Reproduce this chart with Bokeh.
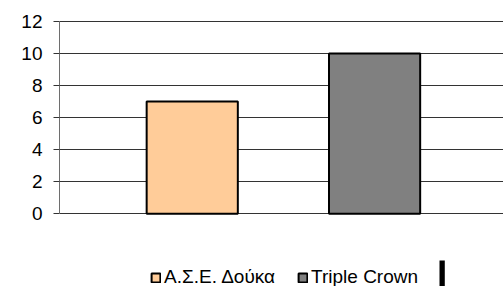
from bokeh.plotting import figure
from bokeh.models import Range1d, FixedTicker, Legend, LegendItem, ColumnDataSource, BoxAnnotation
from bokeh.embed import file_html
from bokeh.resources import INLINE

categories = ["Α.Σ.Ε. Δούκα", "Triple Crown"]
values = [7, 10]
colors = ["#FFCC99", "#808080"]
y_ticks = [0, 2, 4, 6, 8, 10, 12]

p = figure(width=503, height=286, output_backend="svg", toolbar_location=None,
           x_range=Range1d(0.272, 2.707), y_range=Range1d(-4.54, 12.0625),
           min_border_left=59, min_border_right=0, min_border_top=20, min_border_bottom=0)
p.outline_line_color = None
p.background_fill_color = "white"
p.border_fill_color = "white"

items = []
for i, (c, v, col) in enumerate(zip(categories, values, colors)):
    src = ColumnDataSource(dict(x=[i + 1], top=[v]))
    r = p.vbar(x="x", top="top", bottom=0, width=0.5, source=src,
               fill_color=col, line_color="black", line_width=2)
    items.append(LegendItem(label=c, renderers=[r]))

p.xaxis.visible = False
p.xgrid.visible = False
p.yaxis.bounds = (0, 12)
p.yaxis.ticker = FixedTicker(ticks=y_ticks)
p.ygrid.ticker = FixedTicker(ticks=y_ticks)
p.ygrid.grid_line_color = "#333333"
p.ygrid.grid_line_width = 1
p.yaxis.axis_line_color = "#6e6e6e"
p.yaxis.major_tick_line_color = "#333333"
p.yaxis.major_tick_out = 6
p.yaxis.major_tick_in = 0
p.yaxis.minor_tick_line_color = None
p.yaxis.major_label_standoff = 11
p.yaxis.major_label_text_font = "Liberation Sans"
p.yaxis.major_label_text_font_size = "19px"
p.yaxis.major_label_text_color = "black"

legend = Legend(items=items, orientation="horizontal", location=(91, -2),
                glyph_width=11, glyph_height=11, label_standoff=3, spacing=22,
                padding=0, margin=0, border_line_color=None, background_fill_alpha=0,
                label_text_font="Liberation Sans", label_text_font_size="19px",
                label_text_color="black", label_height=14)
p.add_layout(legend, "center")

mark = BoxAnnotation(left=2.356, right=2.385, top=-2.92, bottom=-4.6,
                     fill_color="black", fill_alpha=1, line_color=None)
p.add_layout(mark)

open("out.html", "w").write(file_html(p, INLINE))
